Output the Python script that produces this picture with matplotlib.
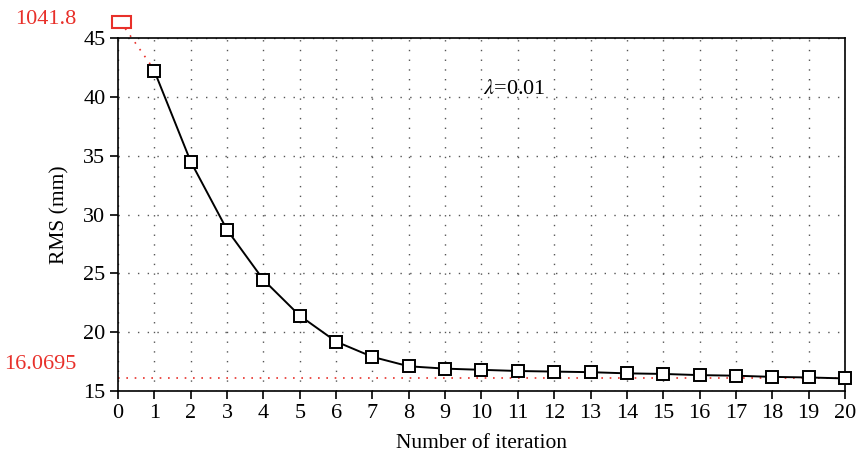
import matplotlib
matplotlib.use("Agg")
import matplotlib.pyplot as plt
from matplotlib.patches import Rectangle

iterations = list(range(1, 21))
rms = [42.2, 34.5, 28.7, 24.45, 21.4, 19.2, 17.9, 17.1, 16.9, 16.8,
       16.7, 16.65, 16.6, 16.5, 16.45, 16.35, 16.3, 16.2, 16.15, 16.0695]
initial_rms = 1041.8
final_rms = 16.0695
xticks = list(range(0, 21))
yticks = [15, 20, 25, 30, 35, 40, 45]

plt.rcParams['font.family'] = ['Liberation Serif', 'DejaVu Serif']
plt.rcParams['mathtext.fontset'] = 'stix'

fig = plt.figure(figsize=(8.61, 4.62), dpi=100)
ax = fig.add_axes([118/861, 1-391/462, (845-118)/861, (391-38)/462])

ax.set_xlim(0, 20)
ax.set_ylim(15, 45)
ax.set_xticks(xticks)
ax.set_yticks(yticks)
ax.tick_params(direction='out', length=6, width=1.2, labelsize=16, pad=3)
for s in ax.spines.values():
    s.set_linewidth(1.2)

ax.grid(True, linestyle=(0, (1, 6)), color='#555555', linewidth=1)
ax.set_axisbelow(True)

red = '#e8302a'
# final value line
ax.plot([0, 20], [final_rms, final_rms], linestyle=(0, (1, 4)), color=red, lw=1.2, zorder=2)
# off-scale initial marker
rect = Rectangle((-0.16, 45.85), 0.52, 1.02, fill=False, edgecolor=red, lw=1.5,
                 clip_on=False, zorder=5)
ax.add_patch(rect)
ax.plot([0.2, 0.95], [45.8, 42.5], linestyle=(0, (1, 4)), color=red, lw=1.2,
        clip_on=False, zorder=2)

ax.plot(iterations, rms, color='black', lw=1.4, marker='s', markersize=8.5,
        markerfacecolor='white', markeredgecolor='black', markeredgewidth=1.4,
        clip_on=False, zorder=4)

ax.text(-1.15, 46.55, f"{initial_rms}", color=red, fontsize=16, ha='right', va='center')
ax.text(-1.15, final_rms + 1.2, f"{final_rms}", color=red, fontsize=16, ha='right', va='center')

ax.text(10.05, 40.6, r"$\lambda$=0.01", fontsize=16, ha='left', va='center')

ax.set_xlabel("Number of iteration", fontsize=15.5, labelpad=8)
ax.set_ylabel("RMS (mm)", fontsize=15.5, labelpad=10)

fig.savefig("out.png", dpi=100)
